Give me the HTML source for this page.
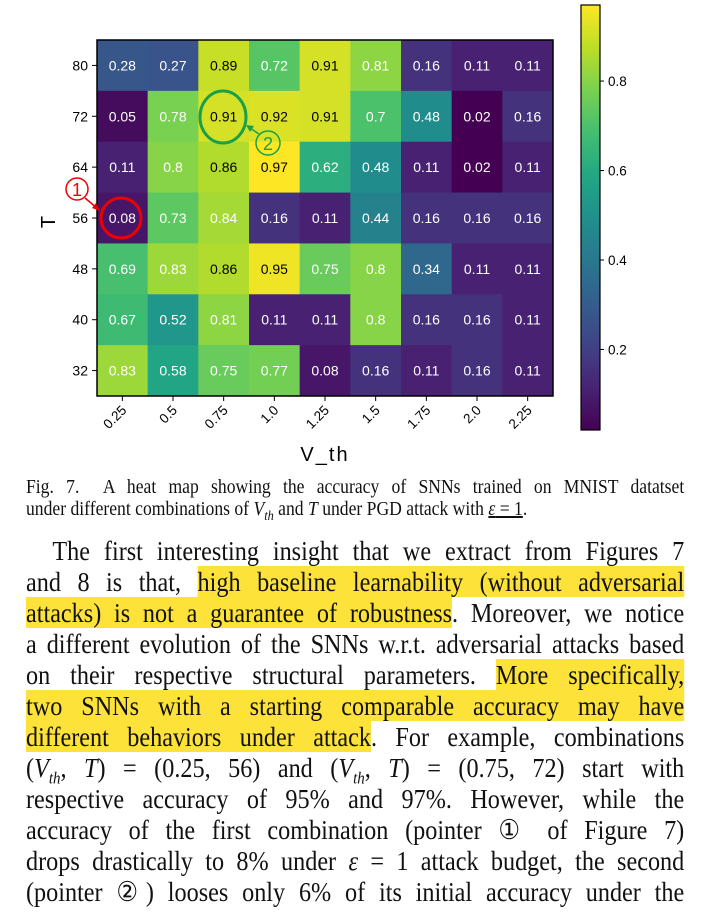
<!DOCTYPE html>
<html><head><meta charset="utf-8">
<style>
body{margin:0;background:#fff;width:702px;height:923px;overflow:hidden;position:relative;font-family:"Liberation Serif",serif;}
svg{position:absolute;left:0;top:0}
.cap{position:absolute;left:26px;width:748px;font-size:20px;line-height:22px;color:#111;transform:scaleX(0.88);transform-origin:0 0}
.cap div{text-align:justify;text-align-last:justify;white-space:nowrap}
.para{position:absolute;left:26px;width:748px;top:535px;font-size:27.5px;line-height:31px;color:#111;transform:scaleX(0.88);transform-origin:0 0}
.para div{text-align:justify;text-align-last:justify;height:31px;white-space:nowrap}
.hl{background:#fde23a}
i{font-style:italic}
</style></head><body>
<svg id="chart" width="702" height="470"></svg>
<div class="cap" style="top:476px">
<div>Fig. 7.&nbsp; A heat map showing the accuracy of SNNs trained on MNIST datatset</div>
<div style="text-align-last:left">under different combinations of <i>V<sub style="font-size:14px">th</sub></i> and <i>T</i> under PGD attack with <u><i>ε</i> = 1</u>.</div>
</div>
<div class="para">
<div style="padding-left:30px">The first interesting insight that we extract from Figures 7</div>
<div>and 8 is that, <span class="hl">high baseline learnability (without adversarial</span></div>
<div><span class="hl">attacks) is not a guarantee of robustness</span>. Moreover, we notice</div>
<div>a different evolution of the SNNs w.r.t. adversarial attacks based</div>
<div>on their respective structural parameters. <span class="hl">More specifically,</span></div>
<div><span class="hl">two SNNs with a starting comparable accuracy may have</span></div>
<div><span class="hl">different behaviors under attack</span>. For example, combinations</div>
<div>(<i>V<sub style="font-size:17px">th</sub></i>, <i>T</i>) = (0.25, 56) and (<i>V<sub style="font-size:17px">th</sub></i>, <i>T</i>) = (0.75, 72) start with</div>
<div>respective accuracy of 95% and 97%. However, while the</div>
<div>accuracy of the first combination (pointer ① of Figure 7)</div>
<div>drops drastically to 8% under <i>ε</i> = 1 attack budget, the second</div>
<div>(pointer ②) looses only 6% of its initial accuracy under the</div>
</div>
<script>
const xLabels=["0.25","0.5","0.75","1.0","1.25","1.5","1.75","2.0","2.25"];
const yLabels=["80","72","64","56","48","40","32"];
const row80=[0.28,0.27,0.89,0.72,0.91,0.81,0.16,0.11,0.11];
const row72=[0.05,0.78,0.91,0.92,0.91,0.7,0.48,0.02,0.16];
const row64=[0.11,0.8,0.86,0.97,0.62,0.48,0.11,0.02,0.11];
const row56=[0.08,0.73,0.84,0.16,0.11,0.44,0.16,0.16,0.16];
const row48=[0.69,0.83,0.86,0.95,0.75,0.8,0.34,0.11,0.11];
const row40=[0.67,0.52,0.81,0.11,0.11,0.8,0.16,0.16,0.11];
const row32=[0.83,0.58,0.75,0.77,0.08,0.16,0.11,0.16,0.11];
const rows=[row80,row72,row64,row56,row48,row40,row32];
const cbTicks=[0.2,0.4,0.6,0.8];
const vmin=0.02,vmax=0.97;
const NS="http://www.w3.org/2000/svg";
const svg=document.getElementById('chart');
const L=97,R=553,T=40,B=396;
const cw=(R-L)/xLabels.length,ch=(B-T)/yLabels.length;
const xPos=i=>L+i*cw, yPos=j=>T+j*ch;
const vir=[[68,1,84],[72,35,116],[64,67,135],[52,94,141],[41,120,142],[32,144,140],[34,167,132],[68,190,112],[121,209,81],[189,222,38],[253,231,37]];
function cmap(v){let t=Math.max(0,Math.min(1,(v-vmin)/(vmax-vmin)))*(vir.length-1);let i=Math.min(Math.floor(t),vir.length-2),f=t-i;const c=vir[i].map((a,k)=>Math.round(a+(vir[i+1][k]-a)*f));return `rgb(${c})`;}
function el(tag,attrs,txt){const e=document.createElementNS(NS,tag);for(const k in attrs)e.setAttribute(k,attrs[k]);if(txt!==undefined)e.textContent=txt;svg.appendChild(e);return e;}
const F='"Liberation Sans",sans-serif';
rows.forEach((r,j)=>r.forEach((v,i)=>{
 const c=el('rect',{x:xPos(i),y:yPos(j),width:cw+0.5,height:ch+0.5,fill:cmap(v)});
 
 
 const t=el('text',{x:xPos(i)+cw/2,y:yPos(j)+ch/2+5,'text-anchor':'middle','font-size':14,'font-family':F,fill:v>0.85?'#000':'#fff'},String(v));
 
 
}));
const fr=el('rect',{x:L,y:T,width:R-L,height:B-T,fill:'none',stroke:'#000','stroke-width':1.5});


xLabels.forEach((s,i)=>{const x=xPos(i)+cw/2;el('line',{x1:x,y1:B,x2:x,y2:B+5,stroke:'#000'});
 const t=el('text',{x:0,y:0,'font-size':13.5,'font-family':F,'text-anchor':'end',transform:`translate(${x+5},${B+15}) rotate(-45)`},s);
 
 });
yLabels.forEach((s,j)=>{const y=yPos(j)+ch/2;el('line',{x1:L-5,y1:y,x2:L,y2:y,stroke:'#000'});
 const t=el('text',{x:L-9,y:y+5,'font-size':14,'font-family':F,'text-anchor':'end'},s);
 
 });
const xt=el('text',{x:325,y:461,'font-size':20,'font-family':F,'text-anchor':'middle','letter-spacing':'2'},'V_th');


const yt=el('text',{x:0,y:0,'font-size':20,'font-family':F,'text-anchor':'middle',transform:'translate(55,222) rotate(-90)'},'T');


const cbL=581,cbW=19,cbT=5,cbB=430;
const g=el('defs',{});const lg=document.createElementNS(NS,'linearGradient');lg.setAttribute('id','vg');lg.setAttribute('x1',0);lg.setAttribute('y1',1);lg.setAttribute('x2',0);lg.setAttribute('y2',0);g.appendChild(lg);
vir.forEach((c,k)=>{const s=document.createElementNS(NS,'stop');s.setAttribute('offset',k/(vir.length-1));s.setAttribute('stop-color',`rgb(${c})`);lg.appendChild(s);});
const cb=el('rect',{x:cbL,y:cbT,width:cbW,height:cbB-cbT,fill:'url(#vg)',stroke:'#000','stroke-width':1.2});


const cbY=v=>cbB-(v-vmin)/(vmax-vmin)*(cbB-cbT);
cbTicks.forEach(v=>{const y=cbY(v);el('line',{x1:cbL+cbW,y1:y,x2:cbL+cbW+4,y2:y,stroke:'#000'});
 const t=el('text',{x:cbL+cbW+8,y:y+5,'font-size':13.5,'font-family':F},v.toFixed(1));
 
 });
const a1=el('ellipse',{cx:121,cy:218,rx:20,ry:20,fill:'none',stroke:'#e00','stroke-width':3});


el('circle',{cx:77,cy:189,r:11,fill:'none',stroke:'#e00','stroke-width':1.5});
el('text',{x:77,y:196,'font-size':18,'font-family':F,fill:'#e00','text-anchor':'middle'},'1');
el('line',{x1:85,y1:198,x2:97,y2:208,stroke:'#e00','stroke-width':1.5});
el('polygon',{points:'100,211 92,208 96,203',fill:'#e00'});
const a2=el('ellipse',{cx:223,cy:117,rx:23,ry:26,fill:'none',stroke:'#1aa04a','stroke-width':3});


el('circle',{cx:268,cy:143,r:12,fill:'none',stroke:'#1aa04a','stroke-width':1.5});
el('text',{x:268,y:150,'font-size':18,'font-family':F,fill:'#1aa04a','text-anchor':'middle'},'2');
el('line',{x1:259,y1:134,x2:250,y2:128,stroke:'#1aa04a','stroke-width':1.5});
el('polygon',{points:'246,125 254,126 250,132',fill:'#1aa04a'});
</script>
</body></html>
